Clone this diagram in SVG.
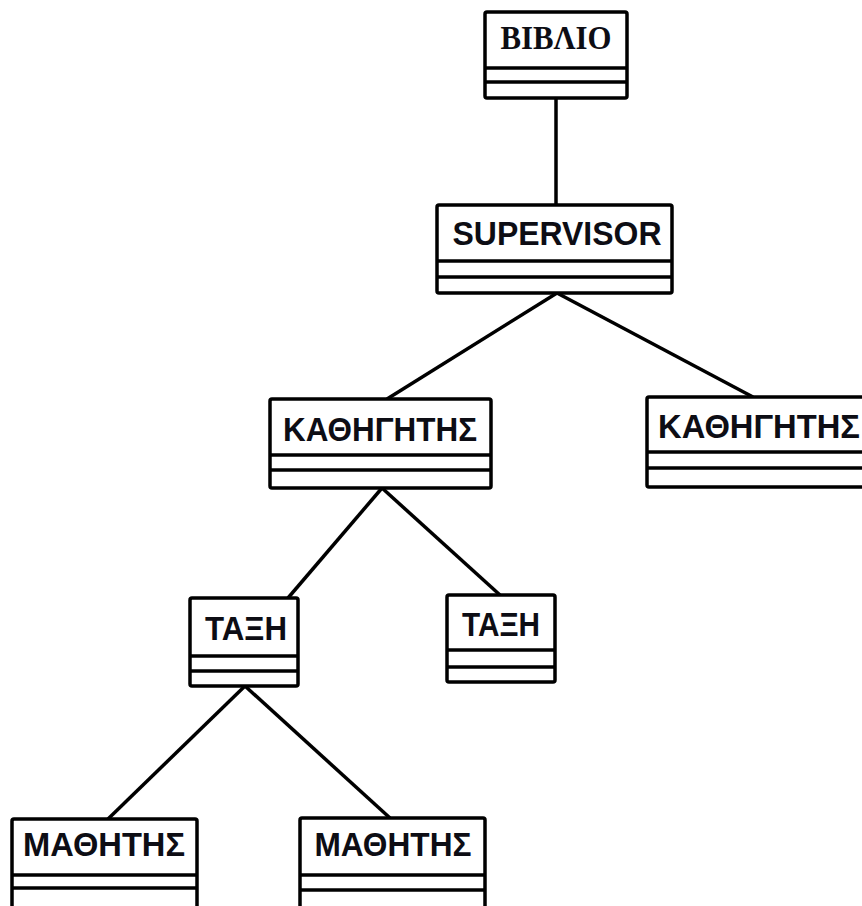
<svg xmlns="http://www.w3.org/2000/svg" width="862" height="906" viewBox="0 0 862 906">
  <style>
    .box { fill: #ffffff; stroke: #000000; stroke-width: 3.5; }
    .sep { stroke: #000000; stroke-width: 3.5; }
    .lbl { font-family: "Liberation Sans", Arial, sans-serif; font-weight: bold; font-size: 33px; fill: #0d0d14; text-anchor: middle; }
    .lbl-serif { font-family: "Liberation Serif", "Times New Roman", serif; font-weight: bold; font-size: 33px; fill: #0d0d14; text-anchor: middle; }
    .edge { stroke: #000000; stroke-width: 3.5; fill: none; }
  </style>
  <rect width="862" height="906" fill="#ffffff"/>

  <!-- connectors -->
  <g id="connectors">
    <line class="edge" x1="556" y1="98" x2="556" y2="205"/>
    <line class="edge" x1="557" y1="293" x2="387" y2="399"/>
    <line class="edge" x1="557" y1="293" x2="753" y2="397"/>
    <line class="edge" x1="382" y1="488" x2="288" y2="598"/>
    <line class="edge" x1="382" y1="488" x2="500" y2="595"/>
    <line class="edge" x1="245" y1="686" x2="108" y2="819"/>
    <line class="edge" x1="245" y1="686" x2="390" y2="818"/>
  </g>

  <!-- class boxes: name compartment, attributes, operations -->
  <g id="biblio">
    <rect class="box" x="485" y="12" width="142" height="86" rx="2"/>
    <line class="sep" x1="485" y1="68" x2="627" y2="68"/>
    <line class="sep" x1="485" y1="82" x2="627" y2="82"/>
    <text class="lbl-serif" x="556" y="49" textLength="111" lengthAdjust="spacingAndGlyphs">ΒΙΒΛΙΟ</text>
  </g>

  <g id="supervisor">
    <rect class="box" x="437" y="205" width="235" height="88" rx="2"/>
    <line class="sep" x1="437" y1="261" x2="672" y2="261"/>
    <line class="sep" x1="437" y1="277" x2="672" y2="277"/>
    <text class="lbl" x="557" y="245" textLength="209" lengthAdjust="spacingAndGlyphs">SUPERVISOR</text>
  </g>

  <g id="kathigitis-1">
    <rect class="box" x="270" y="399" width="221" height="89" rx="2"/>
    <line class="sep" x1="270" y1="455" x2="491" y2="455"/>
    <line class="sep" x1="270" y1="470" x2="491" y2="470"/>
    <text class="lbl" x="380" y="441" textLength="194" lengthAdjust="spacingAndGlyphs">ΚΑΘΗΓΗΤΗΣ</text>
  </g>

  <g id="kathigitis-2">
    <rect class="box" x="647" y="397" width="230" height="90" rx="2"/>
    <line class="sep" x1="647" y1="452" x2="877" y2="452"/>
    <line class="sep" x1="647" y1="468" x2="877" y2="468"/>
    <text class="lbl" x="759" y="438" textLength="202" lengthAdjust="spacingAndGlyphs">ΚΑΘΗΓΗΤΗΣ</text>
  </g>

  <g id="taxi-1">
    <rect class="box" x="190" y="598" width="108" height="88" rx="2"/>
    <line class="sep" x1="190" y1="656" x2="298" y2="656"/>
    <line class="sep" x1="190" y1="671" x2="298" y2="671"/>
    <text class="lbl" x="246" y="640" textLength="82" lengthAdjust="spacingAndGlyphs">ΤΑΞΗ</text>
  </g>

  <g id="taxi-2">
    <rect class="box" x="447" y="595" width="108" height="87" rx="2"/>
    <line class="sep" x1="447" y1="650" x2="555" y2="650"/>
    <line class="sep" x1="447" y1="667" x2="555" y2="667"/>
    <text class="lbl" x="501" y="636" textLength="78" lengthAdjust="spacingAndGlyphs">ΤΑΞΗ</text>
  </g>

  <g id="mathitis-1">
    <rect class="box" x="12" y="819" width="185" height="100" rx="2"/>
    <line class="sep" x1="12" y1="875" x2="197" y2="875"/>
    <line class="sep" x1="12" y1="888" x2="197" y2="888"/>
    <text class="lbl" x="104" y="856" textLength="162" lengthAdjust="spacingAndGlyphs">ΜΑΘΗΤΗΣ</text>
  </g>

  <g id="mathitis-2">
    <rect class="box" x="300" y="818" width="185" height="100" rx="2"/>
    <line class="sep" x1="300" y1="875" x2="485" y2="875"/>
    <line class="sep" x1="300" y1="890" x2="485" y2="890"/>
    <text class="lbl" x="393" y="856" textLength="157" lengthAdjust="spacingAndGlyphs">ΜΑΘΗΤΗΣ</text>
  </g>
</svg>
